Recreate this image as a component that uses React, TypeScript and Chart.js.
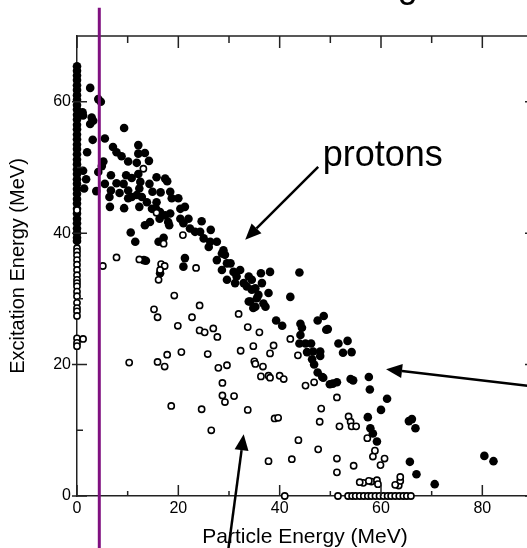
import { useEffect, useRef } from 'react';
import { Chart, registerables } from 'chart.js';

Chart.register(...registerables);

const FONT = '"Liberation Sans", Arial, Helvetica, sans-serif';

const xRange = [0, 90];
const yRange = [0, 70];
const xMajorTicks = [0, 20, 40, 60, 80];
const xMinorTicks = [10, 30, 50, 70];
const yMajorTicks = [0, 20, 40, 60];
const yMinorTicks = [10, 30, 50];

const xTitle = 'Particle Energy (MeV)';
const yTitle = 'Excitation Energy (MeV)';
const labelText = 'protons';
const cutEnergy = 4.4;

// filled circles stacked at zero particle energy
const protonColumnY = [65.4, 64.7, 64.0, 63.3, 62.5, 61.8, 61.0, 60.3, 59.5, 58.8, 58.0, 57.3, 56.5, 55.8, 55.0, 54.3, 53.5, 52.8, 52.0, 51.2, 50.5, 49.7, 49.0, 48.2, 47.5, 46.7, 46.0, 45.2, 44.5, 43.7, 43.0, 42.2, 41.5, 40.7, 40.0, 39.3, 38.8];

// filled circles (protons)
const protonPoints: [number, number][] = [
  [2.6, 62.1], [4.2, 60.4], [4.7, 60.0], [1.1, 58.4], [1.2, 57.9], [2.9, 57.6], [3.2, 57.1], [2.6, 56.6],
  [3.1, 54.2], [9.3, 56.0], [5.5, 54.4], [7.1, 53.1], [7.8, 52.3], [8.8, 51.7], [10.1, 50.9], [12.1, 53.4],
  [12.1, 52.1], [13.4, 52.2], [14.2, 51.0], [11.8, 50.7], [2.0, 52.3], [5.2, 50.9], [4.9, 50.2], [4.2, 49.3],
  [1.2, 49.5], [1.8, 48.2], [1.4, 46.8], [3.8, 46.4], [5.5, 47.5], [6.7, 48.8], [7.8, 47.6], [9.2, 47.5],
  [9.7, 48.8], [10.8, 48.4], [12.1, 49.0], [12.5, 47.8], [12.3, 46.8], [6.7, 46.5], [6.4, 45.5], [6.5, 44.0],
  [8.4, 46.1], [10.1, 46.5], [10.8, 45.5], [10.1, 45.3], [11.8, 45.8], [12.8, 45.5], [9.3, 43.8], [12.3, 44.0],
  [14.3, 47.5], [15.7, 48.5], [17.4, 48.3], [17.8, 47.9], [14.9, 46.3], [16.5, 46.2], [13.8, 44.7], [15.7, 44.7],
  [18.4, 46.3], [18.7, 45.3], [20.0, 45.3], [14.8, 43.7], [15.6, 43.7], [16.4, 43.2], [17.4, 42.7], [18.4, 43.0],
  [20.4, 43.7], [21.3, 44.0], [16.3, 42.2], [18.0, 41.7], [18.2, 41.2], [13.4, 41.2], [14.4, 41.7], [20.4, 42.2],
  [21.0, 41.5], [22.0, 42.2], [24.6, 41.8], [22.3, 40.7], [23.3, 40.2], [24.3, 40.2], [26.4, 40.5], [25.0, 39.2],
  [26.3, 38.7], [27.6, 38.7], [28.9, 37.4], [10.6, 40.1], [11.5, 38.7], [16.1, 38.7], [17.1, 39.3], [26.0, 37.9],
  [21.3, 36.2], [21.0, 34.9], [16.4, 33.9], [13.6, 35.8], [13.2, 35.9], [27.6, 35.9], [28.6, 36.9], [29.2, 36.7],
  [29.6, 35.4], [30.3, 35.4], [28.6, 34.4], [29.6, 32.9], [30.9, 34.1], [31.5, 33.4], [31.2, 32.4], [32.9, 32.4],
  [33.5, 31.9], [33.9, 29.6], [32.2, 34.4], [33.9, 33.4], [34.5, 32.9], [35.2, 31.6], [34.5, 31.4], [36.3, 33.9],
  [36.5, 32.4], [38.1, 34.1], [35.8, 30.6], [35.5, 30.1], [34.2, 29.6], [35.2, 28.8], [34.8, 28.6], [36.8, 29.3],
  [37.2, 28.8], [37.8, 30.9], [43.9, 34.0], [42.1, 30.3], [39.3, 26.7], [40.5, 25.9], [44.1, 26.2], [44.4, 25.6],
  [48.7, 27.4], [47.5, 26.7], [49.2, 25.3], [49.5, 25.4], [44.1, 24.5], [43.9, 23.2], [45.1, 23.2], [46.2, 23.2],
  [45.4, 21.9], [46.6, 22.0], [48.0, 22.0], [48.0, 21.3], [46.4, 20.8], [46.8, 20.0], [47.5, 18.8], [51.6, 23.2],
  [53.4, 23.6], [52.5, 21.8], [54.2, 21.9], [48.4, 18.1], [54.0, 17.8], [57.6, 18.1], [48.6, 18.0], [49.9, 17.0],
  [50.5, 17.1], [51.3, 17.3], [54.5, 17.6], [57.8, 16.2], [61.2, 14.8], [60.0, 13.1], [57.4, 12.0], [65.5, 11.4],
  [66.1, 11.7], [66.8, 10.3], [57.9, 10.3], [58.4, 9.5], [59.2, 8.3], [65.7, 5.2], [67.0, 3.3], [70.6, 1.8],
  [80.4, 6.1], [82.2, 5.3],
];

// open circles stacked at zero particle energy
const openColumnY = [43.5, 37.7, 37.2, 36.6, 35.9, 35.2, 34.4, 33.6, 32.9, 32.4, 31.9, 31.1, 30.4, 29.4, 28.6, 28.1, 27.4, 24.0, 23.3, 22.8];

// open circles
const openPoints: [number, number][] = [
  [1.2, 23.9], [5.1, 35.0], [7.8, 36.3], [12.3, 36.0], [16.6, 35.3], [17.3, 35.0], [16.4, 34.4], [16.1, 32.9],
  [23.5, 34.7], [19.2, 30.5], [15.2, 28.4], [15.9, 27.2], [24.2, 29.0], [22.7, 27.2], [19.9, 25.9], [24.2, 25.2],
  [25.2, 24.9], [26.9, 25.5], [27.7, 24.2], [31.9, 27.7], [33.7, 25.7], [32.3, 22.1], [10.3, 20.3], [15.9, 20.4],
  [17.3, 19.7], [17.8, 21.5], [20.6, 21.9], [25.8, 21.6], [27.9, 19.5], [29.6, 19.9], [28.7, 17.2], [28.7, 15.3],
  [29.2, 14.3], [31.0, 15.2], [18.6, 13.7], [24.6, 13.2], [33.7, 13.1], [26.5, 10.0], [20.9, 39.7], [17.1, 38.4],
  [13.1, 49.8], [15.7, 43.1], [36.0, 24.9], [34.8, 22.8], [38.8, 22.9], [38.1, 21.7], [42.1, 23.9], [43.6, 21.4],
  [35.0, 20.5], [35.2, 20.1], [36.7, 19.7], [36.3, 18.2], [37.8, 18.3], [40.0, 18.3], [40.8, 17.8], [38.1, 18.0],
  [45.1, 16.8], [46.8, 17.3], [51.3, 15.0], [39.0, 11.8], [39.7, 11.9], [48.2, 13.3], [47.9, 11.3], [51.8, 10.6],
  [53.6, 12.1], [54.0, 11.3], [54.2, 10.6], [55.1, 10.6], [57.3, 8.8], [43.7, 8.5], [47.6, 7.1], [58.8, 6.9],
  [58.4, 6.0], [60.7, 5.7], [59.9, 4.7], [37.8, 5.3], [42.4, 5.6], [51.3, 5.7], [51.3, 3.6], [54.6, 4.6],
  [56.5, 2.0], [58.1, 2.2], [59.2, 2.4], [59.4, 1.8], [63.5, 1.6], [63.8, 2.3], [63.8, 2.9], [55.8, 2.1],
  [57.6, 2.3], [62.8, 1.7],
];

// open circles lying on the zero-excitation axis
const openAxisX = [41.0, 51.5, 53.5, 54.3, 55.0, 55.8, 56.6, 57.4, 58.1, 58.9, 59.7, 60.5, 61.3, 62.0, 62.8, 63.6, 64.4, 65.1, 65.9];

// arrows: [tailX, tailY, tipX, tipY] in data units
const arrows: [number, number, number, number][] = [
  [47.6, 50.1, 33.2, 39.0],
  [91.0, 16.6, 61.0, 19.3],
  [29.8, -8.5, 32.9, 9.4],
];
const labelPos = [48.5, 50.2];
const titleFragment = 'g';
const titleFragmentPos = [65.3, 75.9];

const decorations = {
  id: 'decorations',
  afterDraw(chart: any) {
    const { ctx, chartArea, scales } = chart;
    const xs = scales.x;
    const ys = scales.y;
    const { left, right, top, bottom } = chartArea;
    ctx.save();
    ctx.strokeStyle = '#222';
    ctx.lineWidth = 1.5;
    // top and right frame
    ctx.beginPath();
    ctx.moveTo(left, top);
    ctx.lineTo(right, top);
    ctx.lineTo(right, bottom);
    ctx.stroke();
    // ticks
    ctx.beginPath();
    xMajorTicks.forEach((v) => {
      const px = xs.getPixelForValue(v);
      ctx.moveTo(px, bottom); ctx.lineTo(px, bottom - 11);
      ctx.moveTo(px, top); ctx.lineTo(px, top + 12);
    });
    xMinorTicks.forEach((v) => {
      const px = xs.getPixelForValue(v);
      ctx.moveTo(px, bottom); ctx.lineTo(px, bottom - 5);
      ctx.moveTo(px, top); ctx.lineTo(px, top + 7);
    });
    yMajorTicks.forEach((v) => {
      const py = ys.getPixelForValue(v);
      ctx.moveTo(left - 5, py); ctx.lineTo(left + 10, py);
      ctx.moveTo(right, py); ctx.lineTo(right - 8, py);
    });
    yMinorTicks.forEach((v) => {
      const py = ys.getPixelForValue(v);
      ctx.moveTo(left, py); ctx.lineTo(left + 6, py);
      ctx.moveTo(right, py); ctx.lineTo(right - 5, py);
    });
    ctx.stroke();

    // purple cut line
    ctx.strokeStyle = 'rgb(128,16,128)';
    ctx.lineWidth = 3;
    const cx = xs.getPixelForValue(cutEnergy);
    ctx.beginPath();
    ctx.moveTo(cx, ys.getPixelForValue(74.3));
    ctx.lineTo(cx, chart.height);
    ctx.stroke();

    // arrows
    ctx.strokeStyle = '#000';
    ctx.fillStyle = '#000';
    arrows.forEach(([tx, ty, hx, hy]) => {
      const x1 = xs.getPixelForValue(tx);
      const y1 = ys.getPixelForValue(ty);
      const x2 = xs.getPixelForValue(hx);
      const y2 = ys.getPixelForValue(hy);
      const ang = Math.atan2(y2 - y1, x2 - x1);
      const len = 16;
      const hw = 7;
      const bx = x2 - len * Math.cos(ang);
      const by = y2 - len * Math.sin(ang);
      ctx.lineWidth = 2.5;
      ctx.beginPath();
      ctx.moveTo(x1, y1);
      ctx.lineTo(bx, by);
      ctx.stroke();
      ctx.beginPath();
      ctx.moveTo(x2, y2);
      ctx.lineTo(bx + hw * Math.sin(ang), by - hw * Math.cos(ang));
      ctx.lineTo(bx - hw * Math.sin(ang), by + hw * Math.cos(ang));
      ctx.closePath();
      ctx.fill();
    });

    // texts
    ctx.font = `36px ${FONT}`;
    ctx.textBaseline = 'alphabetic';
    ctx.textAlign = 'left';
    ctx.fillText(labelText, xs.getPixelForValue(labelPos[0]), ys.getPixelForValue(labelPos[1]));
    ctx.textAlign = 'center';
    ctx.fillText(titleFragment, xs.getPixelForValue(titleFragmentPos[0]), ys.getPixelForValue(titleFragmentPos[1]));
    ctx.restore();
  },
};

export default function App() {
  const ref = useRef<HTMLCanvasElement | null>(null);
  useEffect(() => {
    if (!ref.current) return;
    const filled = [
      ...protonColumnY.map((y) => ({ x: 0, y })),
      ...protonPoints.map(([x, y]) => ({ x, y })),
    ];
    const open = [
      ...openColumnY.map((y) => ({ x: 0, y })),
      ...openPoints.map(([x, y]) => ({ x, y })),
      ...openAxisX.map((x) => ({ x, y: 0 })),
    ];
    const chart = new Chart(ref.current, {
      type: 'scatter',
      data: {
        datasets: [
          {
            label: 'open',
            data: open,
            backgroundColor: '#fff',
            borderColor: '#000',
            borderWidth: 1.6,
            pointRadius: 3.1,
            clip: false,
          },
          {
            label: 'protons',
            data: filled,
            backgroundColor: '#000',
            borderColor: '#000',
            borderWidth: 0,
            pointRadius: 4.3,
            clip: false,
          },
        ],
      },
      options: {
        responsive: false,
        animation: false,
        events: [],
        layout: { padding: { top: 36, right: 7, left: 0, bottom: 0 } },
        plugins: { legend: { display: false }, tooltip: { enabled: false } },
        scales: {
          x: {
            type: 'linear',
            position: 'bottom',
            min: xRange[0],
            max: xRange[1],
            grid: { display: false, drawTicks: false },
            border: { display: true, color: '#222', width: 1.5 },
            ticks: {
              stepSize: 20,
              autoSkip: false,
              maxRotation: 0,
              padding: 3,
              color: '#000',
              font: { family: FONT, size: 16 },
              callback: (v: any) => (xMajorTicks.includes(Number(v)) ? String(v) : ''),
            },
            title: {
              display: true,
              text: xTitle,
              color: '#000',
              font: { family: FONT, size: 21, lineHeight: 1 },
              padding: { top: 0, bottom: 0.5 },
            },
            afterFit: (scale: any) => { scale.height = 52; },
          },
          y: {
            type: 'linear',
            position: 'left',
            min: yRange[0],
            max: yRange[1],
            grid: { display: false, drawTicks: false },
            border: { display: true, color: '#222', width: 1.5 },
            ticks: {
              stepSize: 20,
              autoSkip: false,
              padding: 6,
              color: '#000',
              font: { family: FONT, size: 16 },
              callback: (v: any) => (yMajorTicks.includes(Number(v)) ? String(v) : ''),
            },
            title: {
              display: true,
              text: yTitle,
              color: '#000',
              font: { family: FONT, size: 20, lineHeight: 1 },
              padding: { top: 8, bottom: 0 },
            },
            afterFit: (scale: any) => { scale.width = 77; },
          },
        },
      },
      plugins: [decorations],
    });
    return () => chart.destroy();
  }, []);
  return (
    <div style={{ position: 'absolute', left: 0, top: 0, width: 527, height: 548, overflow: 'hidden', background: '#fff' }}>
      <canvas ref={ref} width={540} height={548} style={{ width: 540, height: 548, display: 'block' }} />
    </div>
  );
}
